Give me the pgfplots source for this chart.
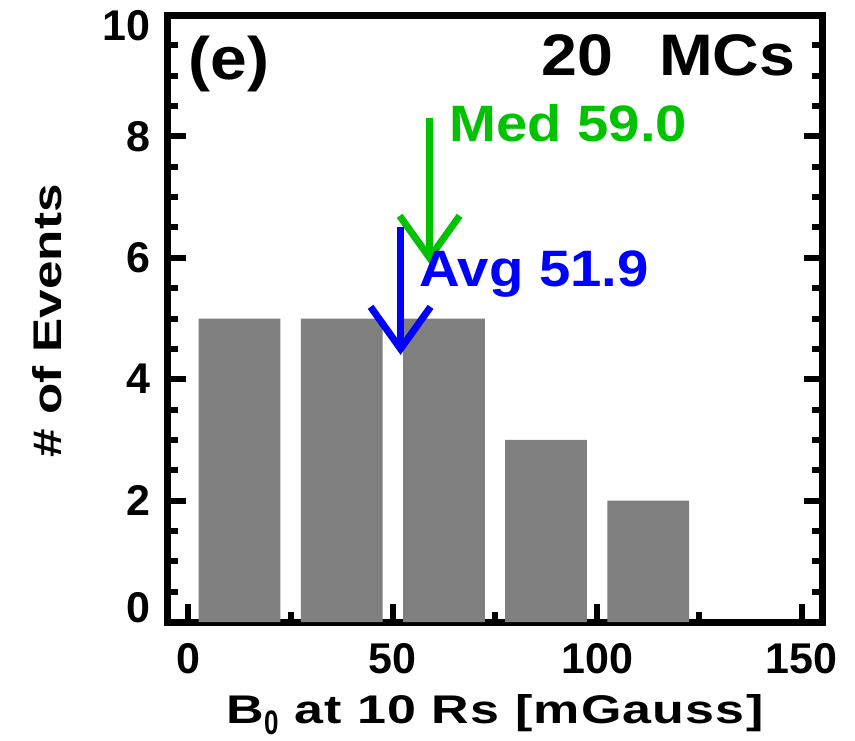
\documentclass[border=0pt]{standalone}
\usepackage{fontspec}
\setmainfont{Liberation Sans}
\newfontfamily\annfont{Liberation Sans}[FakeStretch=1.1]
\newfontfamily\xlabfont{Liberation Sans}[FakeStretch=1.3, LetterSpace=3]
\newfontfamily\ylabfont{Liberation Sans}[FakeStretch=1.28]
\usepackage{graphicx}
\usepackage{pgfplots}
\pgfplotsset{compat=1.18}
\definecolor{medgreen}{RGB}{0,195,0}
\definecolor{barg}{RGB}{128,128,128}

\begin{document}
\begin{tikzpicture}
% 1 px of the reference = 0.5pt
\path[use as bounding box] (-84pt,-59pt) rectangle (343.5pt,311pt);
\begin{axis}[
  at={(0pt,0pt)}, anchor=south west,
  scale only axis, width=327pt, height=303.5pt,
  xmin=-5, xmax=155, ymin=0, ymax=10,
  clip=false,
  xtick={0,50,100,150}, minor xtick={25,75,125},
  ytick={0,2,4,6,8,10}, minor y tick num=3,
  xtick pos=left, ytick pos=both, yticklabel pos=left,
  tick align=inside,
  major tick length=9pt, minor tick length=5pt,
  every tick/.append style={black, line width=3pt},
  axis line style={black, line width=3.5pt, line cap=rect},
  /pgf/number format/assume math mode=true,
  xticklabels={0,50,100,150},
  xticklabel style={font=\bfseries\fontsize{21.5pt}{24pt}\selectfont,
    inner sep=0pt, anchor=north, yshift=-10.5pt},
  yticklabel={\ifcase\ticknum\raisebox{7pt}[\height][\depth]{0}\or 2\or 4\or 6\or 8\or\raisebox{-5.5pt}[\height][\depth]{10}\fi},
  yticklabel style={font=\bfseries\fontsize{21.5pt}{24pt}\selectfont,
    inner sep=0pt, anchor=east, xshift=-8.5pt},
]
\addplot[ybar, bar width=20, bar shift=0pt, fill=barg, draw=none]
  coordinates {(12.5,5) (37.5,5) (62.5,5) (87.5,3) (112.5,2)};

% median arrow
\draw[medgreen, line width=3.5pt] (axis cs:59,8.3) -- (axis cs:59,6.0);
\draw[medgreen, line width=3.5pt, line join=miter]
  ([shift={(-15pt,21pt)}]axis cs:59,6.0) -- (axis cs:59,6.0)
  -- ([shift={(15pt,21pt)}]axis cs:59,6.0);
\node[anchor=base west, inner sep=0pt, text=medgreen,
  font=\annfont\bfseries\fontsize{25.6pt}{30pt}\selectfont]
  at (axis cs:63.7,7.91) {Med 59.0};

% mean arrow
\draw[blue, line width=3.5pt] (axis cs:51.9,6.5) -- (axis cs:51.9,4.5);
\draw[blue, line width=3.5pt, line join=miter]
  ([shift={(-15pt,21pt)}]axis cs:51.9,4.5) -- (axis cs:51.9,4.5)
  -- ([shift={(15pt,21pt)}]axis cs:51.9,4.5);
\node[anchor=base west, inner sep=0pt, text=blue,
  font=\annfont\bfseries\fontsize{25.6pt}{30pt}\selectfont]
  at (axis cs:56.4,5.52) {Avg 51.9};

\node[anchor=base west, inner sep=0pt,
  font=\annfont\bfseries\fontsize{30pt}{34pt}\selectfont]
  at (axis cs:0,8.93) {(e)};
\node[anchor=base east, inner sep=0pt,
  font=\annfont\bfseries\fontsize{29.3pt}{34pt}\selectfont]
  at (axis cs:148.6,9.01) {20\hspace{23pt}MCs};

\node[rotate=90, anchor=base, inner sep=0pt,
  font=\ylabfont\bfseries\fontsize{20pt}{24pt}\selectfont]
  at ([xshift=-53pt]rel axis cs:0,0.496) {\# of Events};
\node[anchor=base, inner sep=0pt,
  font=\xlabfont\bfseries\fontsize{20pt}{24pt}\selectfont]
  at ([yshift=-50.5pt]rel axis cs:0.5,0)
  {B\raisebox{-5.5pt}{\scalebox{0.5}[0.85]{0}} at 10 Rs [mGauss]};
\end{axis}
\end{tikzpicture}
\end{document}
